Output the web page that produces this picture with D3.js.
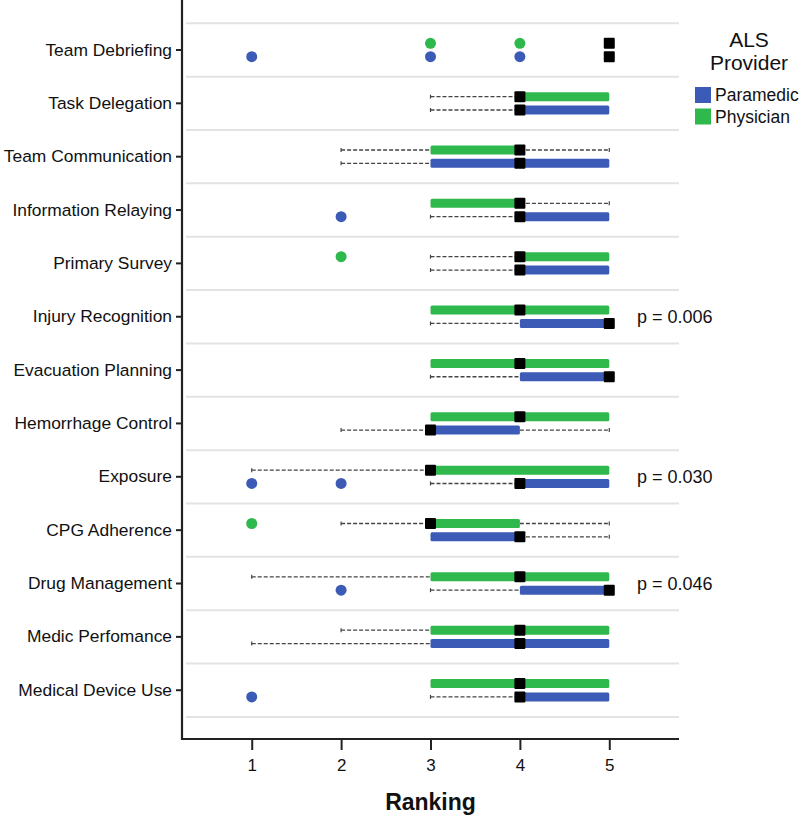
<!DOCTYPE html>
<html>
<head>
<meta charset="utf-8">
<script src="https://cdn.jsdelivr.net/npm/d3@7"></script>
<style>
  html, body { margin: 0; padding: 0; background: #fff; }
  svg { display: block; font-family: "Liberation Sans", Arial, sans-serif; }
</style>
</head>
<body>
<div id="chart"></div>
<script>
// ---- Data ----
const categories = [
  "Team Debriefing", "Task Delegation", "Team Communication", "Information Relaying",
  "Primary Survey", "Injury Recognition", "Evacuation Planning", "Hemorrhage Control",
  "Exposure", "CPG Adherence", "Drug Management", "Medic Perfomance", "Medical Device Use"
];
const providers = ["Paramedic", "Physician"];
const xTicks = [1, 2, 3, 4, 5];

// Physician: whisker low, Q1, median, Q3, whisker high, outliers
const physLow  = [5, 3, 2, 3, 3, 3, 3, 3, 1, 2, 1, 2, 3];
const physQ1   = [5, 4, 3, 3, 4, 3, 3, 3, 3, 3, 3, 3, 3];
const physMed  = [5, 4, 4, 4, 4, 4, 4, 4, 3, 3, 4, 4, 4];
const physQ3   = [5, 5, 4, 4, 5, 5, 5, 5, 5, 4, 5, 5, 5];
const physHigh = [5, 5, 5, 5, 5, 5, 5, 5, 5, 5, 5, 5, 5];
const physOut  = [[3, 4], [], [], [], [2], [], [], [], [], [1], [], [], []];

// Paramedic
const paraLow  = [5, 3, 2, 3, 3, 3, 3, 2, 3, 3, 3, 1, 3];
const paraQ1   = [5, 4, 3, 4, 4, 4, 4, 3, 4, 3, 4, 3, 4];
const paraMed  = [5, 4, 4, 4, 4, 5, 5, 3, 4, 4, 5, 4, 4];
const paraQ3   = [5, 5, 5, 5, 5, 5, 5, 4, 5, 4, 5, 5, 5];
const paraHigh = [5, 5, 5, 5, 5, 5, 5, 5, 5, 5, 5, 5, 5];
const paraOut  = [[1, 3, 4], [], [], [2], [], [], [], [], [1, 2], [], [2], [], [1]];

// p-value annotations
const pCategories = ["Injury Recognition", "Exposure", "Drug Management"];
const pLabels = ["p = 0.006", "p = 0.030", "p = 0.046"];

const colors = { Paramedic: "#3b5bb6", Physician: "#2fb84b" };

// ---- Layout ----
const W = 800, H = 817;
const axisX = 182, axisBottom = 739;

const svg = d3.select("#chart").append("svg").attr("width", W).attr("height", H);

const x = d3.scaleLinear().domain([0.22, 5.78]).range([axisX, 679]);
const y = d3.scaleBand().domain(categories).range([23.3, 716.9]).padding(0);
const bw = y.bandwidth();
const offset = { Physician: -bw * 0.125, Paramedic: bw * 0.125 };

// gridlines (band boundaries)
const bounds = categories.map(c => y(c)).concat([y(categories[categories.length - 1]) + bw]);
svg.append("g").selectAll("line").data(bounds).join("line")
  .attr("x1", axisX + 4).attr("x2", x.range()[1])
  .attr("y1", d => d).attr("y2", d => d)
  .attr("stroke", "#e3e3e3").attr("stroke-width", 2);

// build series table
const series = [];
categories.forEach((c, i) => {
  series.push({ cat: c, prov: "Physician", low: physLow[i], q1: physQ1[i], med: physMed[i], q3: physQ3[i], high: physHigh[i], out: physOut[i] });
  series.push({ cat: c, prov: "Paramedic", low: paraLow[i], q1: paraQ1[i], med: paraMed[i], q3: paraQ3[i], high: paraHigh[i], out: paraOut[i] });
});
const cy = d => y(d.cat) + bw / 2 + offset[d.prov];

const g = svg.append("g");
const boxH = 9, medS = 11, capH = 4;

series.forEach(d => {
  const yc = cy(d);
  // whiskers
  const segs = [];
  if (d.low < d.q1) segs.push([d.low, d.q1]);
  if (d.high > d.q3) segs.push([d.q3, d.high]);
  segs.forEach(s => {
    g.append("line")
      .attr("x1", x(s[0])).attr("x2", x(s[1]))
      .attr("y1", yc).attr("y2", yc)
      .attr("stroke", "#444").attr("stroke-width", 1.3)
      .attr("stroke-dasharray", "4,2");
  });
  if (d.low < d.q1) {
    g.append("line").attr("x1", x(d.low)).attr("x2", x(d.low))
      .attr("y1", yc - capH / 2).attr("y2", yc + capH / 2)
      .attr("stroke", "#444").attr("stroke-width", 1.2);
  }
  if (d.high > d.q3) {
    g.append("line").attr("x1", x(d.high)).attr("x2", x(d.high))
      .attr("y1", yc - capH / 2).attr("y2", yc + capH / 2)
      .attr("stroke", "#444").attr("stroke-width", 1.2);
  }
  // box
  if (d.q3 > d.q1) {
    g.append("rect")
      .attr("x", x(d.q1)).attr("width", x(d.q3) - x(d.q1))
      .attr("y", yc - boxH / 2).attr("height", boxH)
      .attr("rx", 1.5)
      .attr("fill", colors[d.prov]);
  }
  // median
  g.append("rect")
    .attr("x", x(d.med) - medS / 2).attr("width", medS)
    .attr("y", yc - medS / 2).attr("height", medS)
    .attr("rx", 1)
    .attr("fill", "#000");
  // outliers
  d.out.forEach(o => {
    g.append("circle")
      .attr("cx", x(o)).attr("cy", yc).attr("r", 5.5)
      .attr("fill", colors[d.prov]);
  });
});

// Y axis
const yAxis = svg.append("g").attr("transform", `translate(${axisX},0)`)
  .call(d3.axisLeft(y).tickSize(6).tickPadding(4));
yAxis.select(".domain").remove();
yAxis.selectAll(".tick line").attr("stroke", "#222").attr("stroke-width", 2);
yAxis.selectAll(".tick text").attr("font-size", 17.4).attr("fill", "#111")
  .attr("font-family", "Liberation Sans, Arial, sans-serif");
svg.append("line").attr("x1", axisX).attr("x2", axisX).attr("y1", 0).attr("y2", axisBottom + 1)
  .attr("stroke", "#222").attr("stroke-width", 2.2);

// X axis
const xAxis = svg.append("g").attr("transform", `translate(0,${axisBottom})`)
  .call(d3.axisBottom(x).tickValues(xTicks).tickFormat(d3.format("d")).tickSize(11).tickPadding(9).tickSizeOuter(0));
xAxis.select(".domain").attr("stroke", "#222").attr("stroke-width", 2.2)
  .attr("d", `M${axisX - 1},0H${x.range()[1]}`);
xAxis.selectAll(".tick line").attr("stroke", "#222").attr("stroke-width", 2);
xAxis.selectAll(".tick text").attr("font-size", 17).attr("fill", "#111")
  .attr("font-family", "Liberation Sans, Arial, sans-serif");

// X title
svg.append("text").attr("x", x(3)).attr("y", 810).attr("text-anchor", "middle")
  .attr("font-size", 23).attr("font-weight", "bold").attr("fill", "#111").text("Ranking");

// p-values
svg.append("g").selectAll("text").data(pCategories).join("text")
  .attr("x", 637).attr("y", d => y(d) + bw / 2 + 6)
  .attr("font-size", 18).attr("fill", "#111")
  .text((d, i) => pLabels[i]);

// Legend
const lg = svg.append("g");
lg.append("text").attr("x", 749).attr("y", 47).attr("text-anchor", "middle")
  .attr("font-size", 21).attr("fill", "#111").text("ALS");
lg.append("text").attr("x", 749).attr("y", 70).attr("text-anchor", "middle")
  .attr("font-size", 21).attr("fill", "#111").text("Provider");
providers.forEach((p, i) => {
  const yy = 87 + i * 21.5;
  lg.append("rect").attr("x", 695).attr("y", yy).attr("width", 16).attr("height", 16)
    .attr("fill", colors[p]);
  lg.append("text").attr("x", 715).attr("y", yy + 14).attr("font-size", 17.5)
    .attr("fill", "#111").text(p);
});
</script>
</body>
</html>
